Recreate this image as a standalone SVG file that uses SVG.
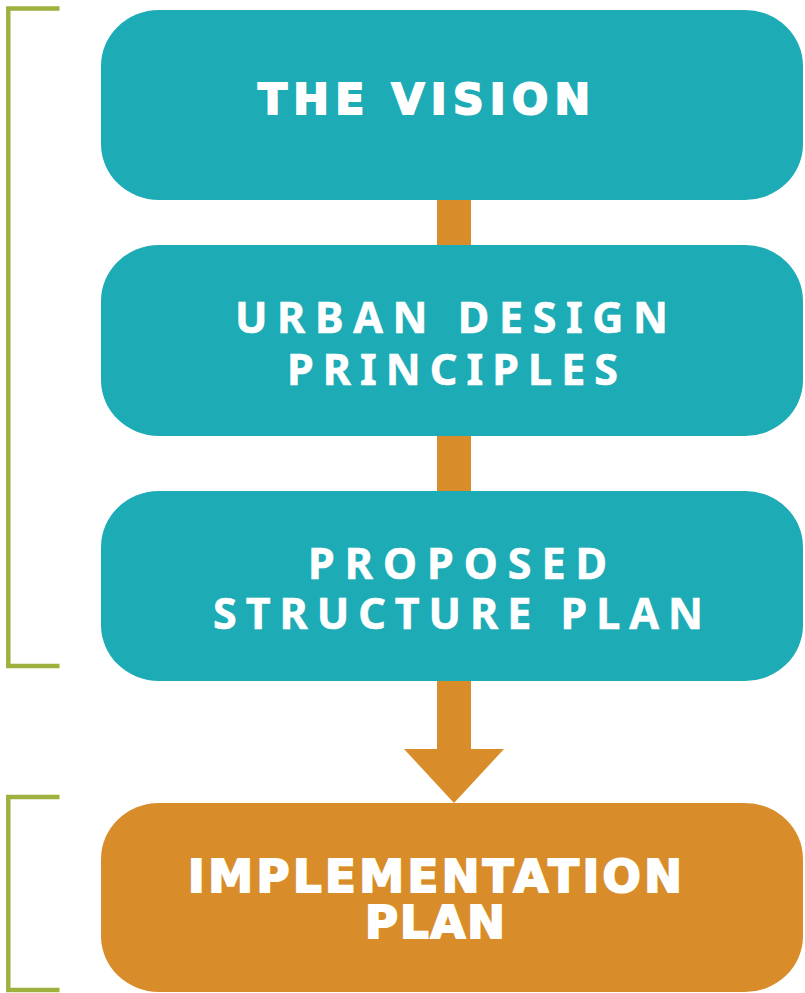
<svg xmlns="http://www.w3.org/2000/svg" width="805" height="993" viewBox="0 0 805 993">
  <style>
    .teal { fill: #1DABB5; }
    .orange { fill: #D88D2A; }
    .bracket { fill: none; stroke: #A0B03F; stroke-width: 4.5; }
    .sq { font-family: "DejaVu Sans", sans-serif; font-weight: bold; fill: #FFFFFF; stroke: #FFFFFF; stroke-width: 2; stroke-linejoin: miter; }
    .rd { font-family: "Noto Sans", "Open Sans", sans-serif; font-weight: bold; fill: #FFFFFF; stroke: #FFFFFF; stroke-width: 0.6; font-size: 43px; }
  </style>
  <rect width="805" height="993" fill="#FFFFFF"/>
  <g id="brackets">
    <polyline class="bracket" points="59.5,8.5 8.3,8.5 8.3,666 59.5,666"/>
    <polyline class="bracket" points="59.5,797 8.3,797 8.3,990 59.5,990"/>
  </g>
  <g id="connectors">
    <polygon class="orange" points="437,195 471,195 471,749 504,749 454,803 404,749 437,749"/>
  </g>
  <g id="node-vision">
    <rect class="teal" x="101" y="10" width="702" height="190" rx="58" ry="56"/>
    <text class="sq" x="258" y="114" font-size="42.5" textLength="332" lengthAdjust="spacing">THE VISION</text>
  </g>
  <g id="node-urban">
    <rect class="teal" x="101" y="245" width="702" height="191" rx="58" ry="56"/>
    <text class="rd" x="235" y="333" textLength="433" lengthAdjust="spacing">URBAN DESIGN</text>
    <text class="rd" x="287" y="385" textLength="331" lengthAdjust="spacing">PRINCIPLES</text>
  </g>
  <g id="node-proposed">
    <rect class="teal" x="101" y="491" width="702" height="190" rx="58" ry="56"/>
    <text class="rd" x="308" y="579" textLength="299" lengthAdjust="spacing">PROPOSED</text>
    <text class="rd" x="213" y="629" textLength="490" lengthAdjust="spacing">STRUCTURE PLAN</text>
  </g>
  <g id="node-implementation">
    <rect class="orange" x="101" y="803" width="702" height="189" rx="58" ry="56"/>
    <text class="sq" x="188" y="892" font-size="45" textLength="494" lengthAdjust="spacing">IMPLEMENTATION</text>
    <text class="sq" x="365" y="938" font-size="45" textLength="140" lengthAdjust="spacing">PLAN</text>
  </g>
</svg>
